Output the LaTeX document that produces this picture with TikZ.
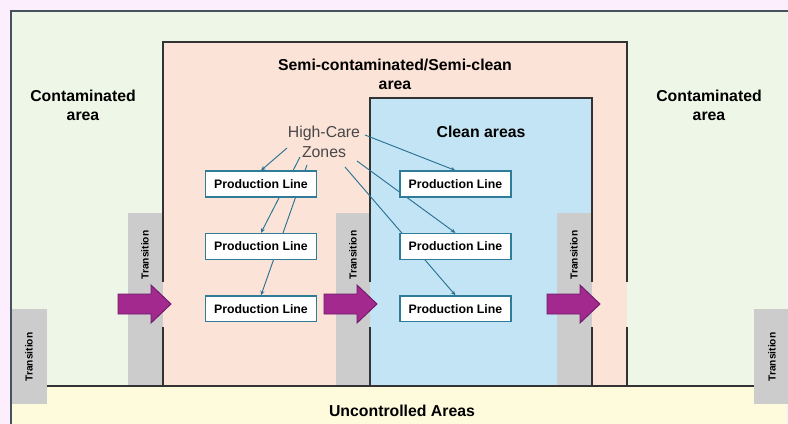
\documentclass[tikz,border=0pt]{standalone}
\usepackage{fontspec}
\setmainfont{Liberation Sans}
\usetikzlibrary{arrows.meta,positioning}
\definecolor{pagebg}{HTML}{FCEEFC}
\definecolor{contam}{HTML}{EEF6E8}
\definecolor{semiclean}{HTML}{FBE3D7}
\definecolor{cleanarea}{HTML}{C3E4F4}
\definecolor{uncontr}{HTML}{FEFADC}
\definecolor{transfill}{HTML}{CCCCCC}
\definecolor{framecol}{HTML}{46525E}
\definecolor{wallcol}{HTML}{333333}
\definecolor{linkcol}{HTML}{2A7294}
\definecolor{boxcol}{HTML}{2F7C99}
\definecolor{passfill}{HTML}{A3298F}
\definecolor{passdraw}{HTML}{6E1C6A}
\pgfdeclarelayer{areas}
\pgfdeclarelayer{links}
\pgfsetlayers{areas,links,main}
\tikzset{
    wallline/.style = {draw=wallcol, line width=1.3pt},
    arealabel/.style = {font=\bfseries\fontsize{13.5}{16}\selectfont, align=center, inner sep=0pt},
    translabel/.style = {rotate=90, font=\bfseries\fontsize{8.7}{10}\selectfont, inner sep=0pt},
    hczlabel/.style = {font=\fontsize{13.5}{16.5}\selectfont, text=black!72, align=center, inner sep=0pt},
    linebox/.style = {draw=boxcol, fill=white, line width=1.2pt, minimum width=3.33cm,
        minimum height=0.77cm, inner sep=0pt, font=\bfseries\fontsize{10.5}{12}\selectfont},
    pointarrow/.style = {draw=linkcol, line width=0.8pt, -{Stealth[length=4pt,width=3.5pt]}},
    passarrow/.style = {fill=passfill, draw=passdraw, line width=0.8pt, line join=miter}
}

\begin{document}
\begin{tikzpicture}[x=0.03cm, y=-0.03cm]
    \useasboundingbox (0,0) rectangle (788,424);
    \begin{pgfonlayer}{areas}
        \fill[pagebg] (0,0) rectangle (788,424);
        \fill[contam] (11,11) rectangle (787,424);
        \fill[uncontr] (11,386) rectangle (787,424);
        \fill[semiclean] (163,42) rectangle (627,386);
        \fill[cleanarea] (370,98) rectangle (592,386);
        \foreach \a/\b/\c/\d in {12/309/47/404, 128/213/163/386, 336/213/370/386,
                                 557/213/592/386, 754/309/788/404}
            \fill[transfill] (\a,\b) rectangle (\c,\d);
        \draw[framecol, line width=1.3pt] (11,424) -- (11,11) -- (788,11);
        \draw[wallline] (47,386) -- (754,386);
        \draw[wallline] (163,282) |- (627,42) -- (627,282);
        \draw[wallline] (370,282) |- (592,98) -- (592,282);
        \foreach \x in {163,370,592,627}
            \draw[wallline] (\x,327) -- (\x,386);
    \end{pgfonlayer}

    \foreach \x/\y [count=\i] in {29/357, 145/255, 353/255, 574/255, 772/357}
        \node[translabel] (trans-\i) at (\x,\y) {Transition};

    \node[arealabel] (contam-l) at (83,105) {Contaminated\\area};
    \node[arealabel] (contam-r) at (709,105) {Contaminated\\area};
    \node[arealabel] (semi) at (395,74) {Semi-contaminated/Semi-clean\\area};
    \node[arealabel] (clean) at (481,132) {Clean areas};
    \node[arealabel] (uncontr) at (402,411) {Uncontrolled Areas};

    \node[linebox] (line-l-1) at (261,184) {Production Line};
    \node[linebox] (line-r-1) [right=2.46cm of line-l-1] {Production Line};
    \foreach \r [remember=\r as \lastr (initially 1)] in {2,3} {
        \node[linebox] (line-l-\r) [below=1.06cm of line-l-\lastr] {Production Line};
        \node[linebox] (line-r-\r) [below=1.06cm of line-r-\lastr] {Production Line};
    }

    \node[hczlabel] (hcz) at (324,142) {High-Care\\Zones};
    \coordinate (hcz-1) at (287,148);
    \coordinate (hcz-2) at (300,157);
    \coordinate (hcz-3) at (307,165);
    \coordinate (hcz-4) at (365,135);
    \coordinate (hcz-5) at (357,161);
    \coordinate (hcz-6) at (345,167);
    \begin{pgfonlayer}{links}
        \foreach \s/\t in {1/line-l-1, 2/line-l-2, 3/line-l-3, 4/line-r-1, 5/line-r-2, 6/line-r-3}
            \draw[pointarrow] (hcz-\s) -- (\t.north);
    \end{pgfonlayer}

    \foreach \x in {118,324,547}
        \draw[passarrow] (\x,294) -- ++(33,0) -- ++(0,-9) -- ++(20,19) -- ++(-20,19)
            -- ++(0,-9) -- ++(-33,0) -- cycle;
\end{tikzpicture}
\end{document}
